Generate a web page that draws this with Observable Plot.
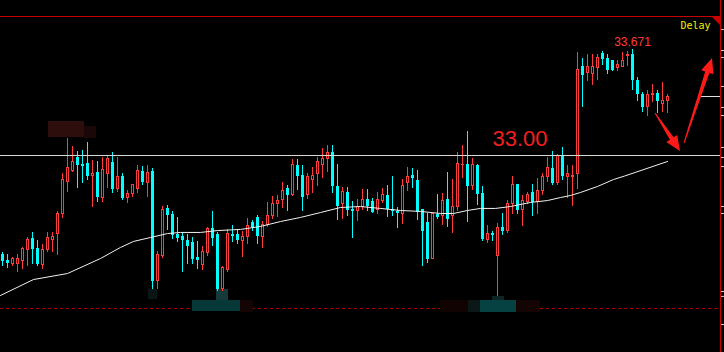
<!DOCTYPE html>
<html><head><meta charset="utf-8">
<script src="https://cdn.jsdelivr.net/npm/d3@7"></script>
<script src="https://cdn.jsdelivr.net/npm/@observablehq/plot@0.6"></script>
<style>html,body{margin:0;padding:0;background:#000;} #chart svg{display:block}</style>
</head><body><div id="chart"></div>
<script>
// ---- candle data (price) ----
const opens = [
32.373,32.335,32.316,32.316,32.335,32.405,32.475,32.411,32.304,32.405,
32.468,32.506,32.627,32.835,32.905,32.987,32.943,32.949,32.873,32.892,
32.734,32.886,32.956,32.785,32.867,32.728,32.759,32.791,32.899,32.829,
32.899,32.203,32.361,32.665,32.627,32.500,32.487,32.462,32.449,32.354,
32.310,32.386,32.538,32.500,32.152,32.278,32.500,32.500,32.462,32.481,
32.576,32.608,32.487,32.563,32.614,32.696,32.721,32.791,32.753,32.937,
32.873,32.747,32.842,32.880,32.943,32.975,33.019,32.804,32.690,32.766,
32.658,32.646,32.677,32.721,32.709,32.652,32.715,32.747,32.658,32.646,
32.627,32.823,32.873,32.842,32.658,32.576,32.348,32.627,32.614,32.721,
32.614,32.677,32.937,32.943,32.804,32.937,32.759,32.468,32.506,32.361,
32.544,32.519,32.690,32.816,32.652,32.703,32.766,32.703,32.778,32.861,
32.918,32.823,32.994,32.861,32.861,32.880,33.563,33.525,33.519,33.557,
33.646,33.614,33.601,33.557,33.563,33.627,33.639,33.475,33.386,33.304,
33.380,33.392,33.329,33.342];
const highs = [
32.386,32.373,32.354,32.373,32.418,32.481,32.513,32.462,32.437,32.513,
32.513,32.646,32.886,33.108,33.057,33.025,33.032,33.082,32.968,32.962,
32.987,32.994,33.019,32.987,32.886,32.778,32.816,32.937,32.930,32.937,
32.918,32.392,32.677,32.684,32.646,32.608,32.513,32.500,32.481,32.456,
32.424,32.544,32.646,32.513,32.297,32.532,32.557,32.532,32.519,32.601,
32.589,32.620,32.582,32.703,32.740,32.747,32.829,32.810,32.975,32.975,
32.937,32.886,32.924,32.987,33.044,33.063,33.063,32.943,32.797,32.797,
32.709,32.721,32.785,32.785,32.728,32.766,32.791,32.810,32.867,32.671,
32.848,32.924,32.918,32.905,32.658,32.633,32.633,32.753,32.759,32.892,
32.848,33.019,33.063,33.152,32.981,32.943,32.804,32.557,32.519,32.570,
32.633,32.715,32.867,32.816,32.747,32.766,32.816,32.854,32.886,32.987,
33.025,33.006,33.051,32.937,32.937,33.652,33.614,33.639,33.639,33.639,
33.658,33.639,33.601,33.601,33.652,33.658,33.671,33.494,33.399,33.411,
33.449,33.411,33.462,33.386];
const lows = [
32.297,32.285,32.297,32.259,32.278,32.297,32.310,32.297,32.278,32.386,
32.386,32.367,32.601,32.766,32.892,32.791,32.823,32.842,32.671,32.703,
32.703,32.791,32.759,32.766,32.715,32.696,32.734,32.759,32.810,32.734,
32.152,32.152,32.348,32.525,32.468,32.449,32.259,32.310,32.310,32.278,
32.272,32.361,32.424,32.139,32.139,32.259,32.449,32.437,32.354,32.437,
32.519,32.437,32.411,32.544,32.595,32.608,32.665,32.646,32.740,32.778,
32.646,32.721,32.759,32.804,32.854,32.892,32.759,32.589,32.595,32.614,
32.475,32.582,32.652,32.646,32.633,32.627,32.696,32.608,32.614,32.538,
32.563,32.772,32.791,32.589,32.297,32.316,32.342,32.595,32.557,32.544,
32.506,32.646,32.854,32.576,32.778,32.684,32.456,32.443,32.456,32.108,
32.494,32.506,32.627,32.627,32.551,32.690,32.614,32.627,32.747,32.829,
32.810,32.810,32.842,32.728,32.677,32.785,33.304,33.468,33.443,33.475,
33.570,33.513,33.532,33.532,33.557,33.563,33.411,33.342,33.272,33.247,
33.335,33.266,33.272,33.266];
const closes = [
32.329,32.316,32.342,32.342,32.411,32.468,32.405,32.310,32.405,32.475,
32.487,32.627,32.848,32.918,32.962,32.937,32.930,32.867,32.886,32.734,
32.911,32.975,32.785,32.867,32.728,32.759,32.816,32.899,32.829,32.892,
32.203,32.373,32.658,32.620,32.494,32.475,32.462,32.424,32.342,32.335,
32.392,32.532,32.475,32.152,32.285,32.506,32.487,32.462,32.487,32.551,
32.544,32.487,32.563,32.620,32.696,32.715,32.778,32.747,32.937,32.867,
32.734,32.867,32.873,32.956,32.975,33.013,32.804,32.677,32.766,32.652,
32.646,32.677,32.721,32.677,32.639,32.721,32.753,32.658,32.646,32.633,
32.810,32.861,32.854,32.639,32.519,32.342,32.627,32.608,32.715,32.595,
32.671,32.949,32.943,32.804,32.937,32.753,32.468,32.506,32.494,32.544,
32.519,32.690,32.816,32.652,32.709,32.753,32.703,32.778,32.867,32.924,
32.823,32.994,32.867,32.880,32.873,33.544,33.506,33.563,33.563,33.620,
33.608,33.538,33.538,33.576,33.601,33.639,33.475,33.386,33.304,33.386,
33.392,33.342,33.342,33.373];

// moving average line vertices (bar index, price)
const maIdx = [-0.4,6.2,13,19.6,23.6,26.2,29.6,33,35.6,39.6,43,47.6,51.6,55.6,59.6,63.6,67.6,71.6,75.6,79.6,83.6,87.6,90.2,93,95.6,98.6,101.6,105.6,109,111.6,113.6,115.6,119,122.2,124.4,133];
const maVal = [32.114,32.215,32.253,32.348,32.418,32.456,32.481,32.506,32.513,32.513,32.525,32.532,32.551,32.582,32.608,32.639,32.671,32.677,32.665,32.652,32.646,32.633,32.633,32.652,32.665,32.665,32.677,32.703,32.715,32.734,32.747,32.766,32.804,32.848,32.870,32.962];

// annotations
const levelLine = 33.00;
const levelLabelIdx = 98.0;
const lowLine = 32.032;
const axisTicks = [33.797,33.665,33.620,33.437,33.304,33.253,33.051,32.987,32.930,32.677,32.633,32.139,32.108,31.930];
const arrowTail = [[130.6,33.266],[136.4,33.076]];
const arrowTip  = [[135.6,33.025],[142.0,33.614]];
const statusLabel = ["Delay"];
// pixelated (blurred) patches: x1,x2 (bar index), y1,y2 (price), colour
const patchX1 = [9.2,16.4,38,42.8,47.6,29.2,87.6,93.2,95.6,98,102.8];
const patchX2 = [16.4,18.8,47.6,45.2,50.2,31,93.2,95.6,102.8,100.4,107.6];
const patchY1 = [33.215,33.184,32.082,32.152,32.082,32.152,32.082,32.082,32.082,32.108,32.082];
const patchY2 = [33.114,33.108,32.013,32.082,32.006,32.089,32.006,32.006,32.006,32.082,32.006];
const patchC  = ["#2e0d0d","#1a0707","#073838","#163a3a","#140404","#0a1616","#120303","#0c1818","#064242","#0b2424","#140404"];

const RED = "#ff3c3c", CYAN = "#00ffff", BORDER = "#c80000";
const X_DOMAIN = [-0.4, 143.6], Y_DOMAIN = [31.753, 33.880];

const candles = opens.map((o, i) => ({i, o, h: highs[i], l: lows[i], c: closes[i], up: closes[i] >= o}));
const N = candles.length;
const ma = maIdx.map((i, k) => ({i, v: maVal[k]}));
const patches = patchX1.map((x1, k) => ({x1, x2: patchX2[k], y1: patchY1[k], y2: patchY2[k], fill: patchC[k]}));
const peak = d3.greatest(candles, d => d.h);

const W = 724, H = 352, mL = 0, mR = 4, mT = 16, mB = 0;
const fx = d3.scaleLinear(X_DOMAIN, [mL, W - mR]);
const fy = d3.scaleLinear(Y_DOMAIN, [H - mB, mT]);

function arrowsMark(index, scales) {
  const sx = (scales && typeof scales.x === "function") ? scales.x : fx;
  const sy = (scales && typeof scales.y === "function") ? scales.y : fy;
  const g = d3.create("svg:g");
  arrowTail.forEach((t, k) => {
    const a = [sx(t[0]), sy(t[1])], b = [sx(arrowTip[k][0]), sy(arrowTip[k][1])];
    const dx = b[0] - a[0], dy = b[1] - a[1], len = Math.hypot(dx, dy);
    const ux = dx / len, uy = dy / len, nx = -uy, ny = ux;
    const hl = 15, hw = 6.5, sw = 2.2, tw = 0.5;
    const bx = b[0] - ux * hl, by = b[1] - uy * hl;
    const pts = [
      [a[0] + nx * tw, a[1] + ny * tw], [bx + nx * sw, by + ny * sw], [bx + nx * hw, by + ny * hw],
      b, [bx - nx * hw, by - ny * hw], [bx - nx * sw, by - ny * sw], [a[0] - nx * tw, a[1] - ny * tw]];
    g.append("path").attr("d", "M" + pts.map(p => p.join(",")).join("L") + "Z").attr("fill", "#ff1a1a");
  });
  return g.node();
}
function cornerMark(index, scales, values, dims) {
  const x = (dims ? dims.width - dims.marginRight : W - mR) + 0.5, y = (dims ? dims.marginTop : mT) + 0.5;
  return d3.create("svg:path").attr("d", `M${x-9},${y}L${x},${y}L${x},${y+9}Z`).attr("fill", BORDER).node();
}

const crisp = {shapeRendering: "crispEdges"};
const chart = Plot.plot({
  width: W, height: H,
  marginLeft: mL, marginRight: mR, marginTop: mT, marginBottom: mB,
  style: {background: "#000", color: "#fff", overflow: "visible"},
  x: {domain: X_DOMAIN, axis: null},
  y: {domain: Y_DOMAIN, axis: null},
  color: {type: "identity"},
  marks: [
    Plot.ruleY([lowLine], {stroke: "#a80000", strokeDasharray: "3,3", ...crisp}),
    Plot.rect(patches, {x1: "x1", x2: "x2", y1: "y1", y2: "y2", fill: "fill", ...crisp}),
    Plot.ruleX(candles, {x: "i", y1: "l", y2: "h", stroke: d => d.up ? RED : CYAN, ...crisp}),
    Plot.rect(candles.filter(d => !d.up), {x1: d => d.i - 0.3, x2: d => d.i + 0.3, y1: "o", y2: "c", fill: CYAN, ...crisp}),
    Plot.rect(candles.filter(d => d.up), {x1: d => d.i - 0.2, x2: d => d.i + 0.2, y1: "o", y2: "c", fill: "#000", stroke: RED, ...crisp}),
    Plot.line(ma, {x: "i", y: "v", stroke: "#f2f2f2", strokeWidth: 1}),
    Plot.ruleY([levelLine], {stroke: "#d8d8d8", ...crisp}),
    Plot.ruleY([closes[N - 1]], {x1: X_DOMAIN[1] - 4, x2: X_DOMAIN[1], stroke: "#e0e0e0", ...crisp}),
    Plot.text([levelLine], {x: () => levelLabelIdx, y: d => d, text: d => d.toFixed(2), textAnchor: "start", lineAnchor: "middle", dy: -16.7, fontSize: 22, fontFamily: "Liberation Sans, Arial, sans-serif", fill: "#f02020"}),
    Plot.text([peak], {x: "i", y: "h", text: d => d.h.toFixed(3), lineAnchor: "middle", dy: -7, fontSize: 12, fontFamily: "Liberation Sans, Arial, sans-serif", fill: "#ff3b3b"}),
    Plot.text(statusLabel, {frameAnchor: "top-right", dx: -10, dy: 5, lineAnchor: "top", textAnchor: "end", fontSize: 10, fontFamily: "DejaVu Sans Mono, monospace", fill: "#f0f000"}),
    arrowsMark,
    Plot.ruleY([Y_DOMAIN[1]], {stroke: BORDER, ...crisp}),
    Plot.ruleX([X_DOMAIN[1]], {stroke: BORDER, insetTop: -16, ...crisp}),
    Plot.axisY({anchor: "right", ticks: axisTicks, tickSize: 3, tickFormat: () => "", label: null, stroke: "#d0d0d0"}),
    cornerMark
  ]
});
document.getElementById("chart").append(chart);
</script>
</body></html>
